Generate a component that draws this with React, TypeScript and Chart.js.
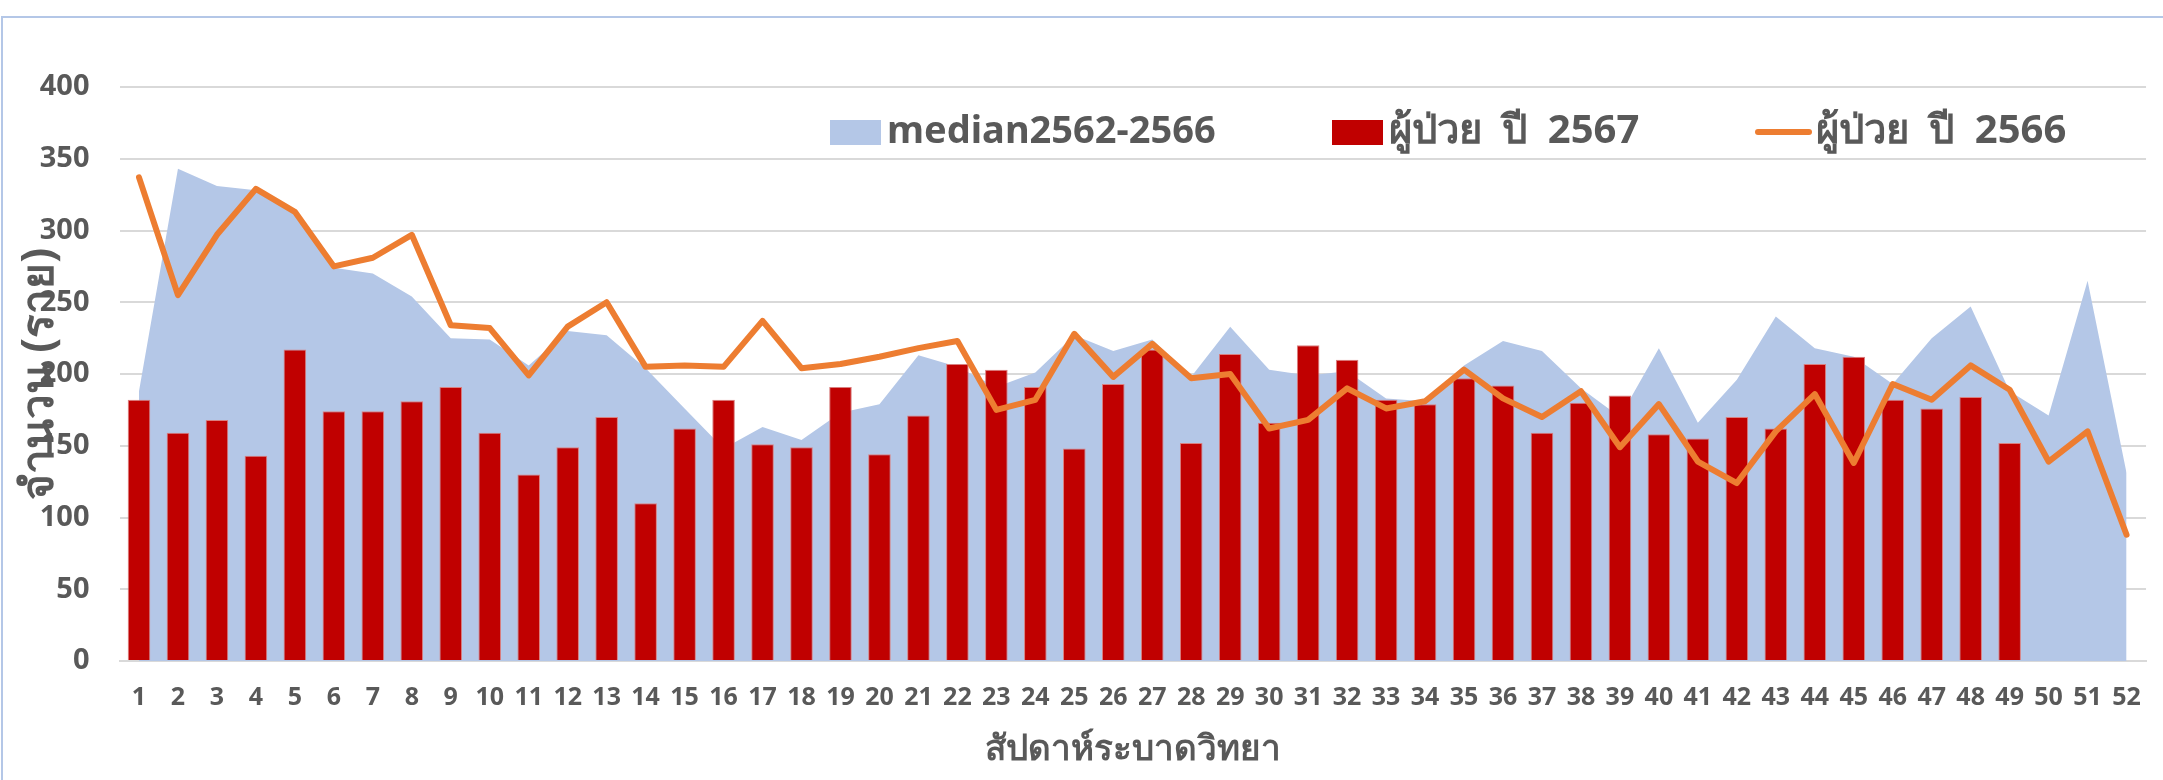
import React, { useEffect, useRef } from 'react';
import { Chart, registerables } from 'chart.js';

Chart.register(...registerables);

const weekLabels = ['1','2','3','4','5','6','7','8','9','10','11','12','13','14','15','16','17','18','19','20','21','22','23','24','25','26','27','28','29','30','31','32','33','34','35','36','37','38','39','40','41','42','43','44','45','46','47','48','49','50','51','52'];

const median2562to2566 = [188,343,331,328,313,274,270,254,225,224,206,230,227,204,176,148,163,154,173,179,213,205,191,201,227,216,224,198,233,203,199,202,183,181,206,223,216,190,170,218,166,196,240,218,212,193,225,247,188,171,265,131];

const patients2567 = [182,159,168,143,217,174,174,181,191,159,130,149,170,110,162,182,151,149,191,144,171,207,203,191,148,193,217,152,214,166,220,210,182,179,197,192,159,180,185,158,155,170,162,207,212,182,176,184,152];

const patients2566 = [337,255,297,329,313,275,281,297,234,232,199,233,250,205,206,205,237,204,207,212,218,223,175,182,228,198,221,197,200,162,168,190,176,181,203,183,170,188,149,179,139,124,160,186,138,193,182,206,189,139,160,88];

const yMin = 0;
const yMax = 400;
const yStep = 50;

const legendLabels = ['median2562-2566', 'ผู้ป่วย ปี 2567', 'ผู้ป่วย ปี 2566'];
const yTitle = 'จำนวน (ราย)';
const xTitle = 'สัปดาห์ระบาดวิทยา';

const FONT = '"Noto Sans", "Liberation Sans", sans-serif';
const TEXT = '#595959';

// legend item layout: [marker x, text x]
const legendPos = [
  [830, 887],
  [1332, 1389],
  [1755, 1816],
];

const decorPlugin = {
  id: 'decor',
  beforeDraw(chart: any) {
    const ctx = chart.ctx;
    ctx.save();
    ctx.strokeStyle = '#b4c7e7';
    ctx.lineWidth = 2;
    ctx.strokeRect(2, 17, chart.width + 20, chart.height + 20);
    ctx.restore();
  },
  afterDraw(chart: any) {
    const ctx = chart.ctx;
    const area = chart.chartArea;
    ctx.save();
    ctx.fillStyle = TEXT;
    ctx.font = `bold 44px ${FONT}`;
    ctx.textAlign = 'center';
    ctx.textBaseline = 'middle';
    ctx.translate(40, 374);
    ctx.rotate(-Math.PI / 2);
    ctx.fillText(yTitle, 0, 0);
    ctx.restore();

    ctx.save();
    ctx.fillStyle = TEXT;
    ctx.font = `bold 35px ${FONT}`;
    ctx.textAlign = 'center';
    ctx.textBaseline = 'middle';
    ctx.fillText(xTitle, (area.left + area.right) / 2, 750);
    ctx.restore();

    ctx.save();
    ctx.textBaseline = 'middle';
    ctx.textAlign = 'left';
    const ds = chart.data.datasets;
    const cy = 132;
    [0, 1, 2].forEach((i) => {
      const d = ds[i];
      const [mx, tx] = legendPos[i];
      if (i === 2) {
        ctx.strokeStyle = d.borderColor;
        ctx.lineWidth = 6;
        ctx.lineCap = 'round';
        ctx.beginPath();
        ctx.moveTo(mx + 3, cy);
        ctx.lineTo(tx - 7, cy);
        ctx.stroke();
      } else {
        ctx.fillStyle = d.backgroundColor;
        ctx.fillRect(mx, cy - 12, tx - mx - 6, 25);
      }
      ctx.fillStyle = TEXT;
      ctx.font = i === 0 ? `bold 38px ${FONT}` : `bold 40px ${FONT}`;
      (ctx as any).wordSpacing = i === 0 ? '0px' : '10px';
      ctx.fillText(d.label, tx, cy);
    });
    ctx.restore();
  },
};

export default function App() {
  const ref = useRef<HTMLCanvasElement | null>(null);
  useEffect(() => {
    document.body.style.margin = '0';
    const canvas = ref.current;
    if (!canvas) return;
    const chart = new Chart(canvas, {
      type: 'bar',
      data: {
        labels: weekLabels,
        datasets: [
          {
            type: 'line',
            label: legendLabels[0],
            data: median2562to2566,
            fill: 'origin',
            backgroundColor: '#b4c7e7',
            borderColor: 'rgba(0,0,0,0)',
            borderWidth: 0,
            pointRadius: 0,
            tension: 0,
            order: 3,
          } as any,
          {
            type: 'bar',
            label: legendLabels[1],
            data: patients2567,
            backgroundColor: '#c00000',
            borderColor: '#d98080',
            borderWidth: 1,
            barPercentage: 0.58,
            categoryPercentage: 1,
            order: 2,
          } as any,
          {
            type: 'line',
            label: legendLabels[2],
            data: patients2566,
            fill: false,
            borderColor: '#ed7d31',
            backgroundColor: '#ed7d31',
            borderWidth: 6,
            pointRadius: 0,
            tension: 0,
            borderJoinStyle: 'round',
            borderCapStyle: 'round',
            order: 1,
          } as any,
        ],
      },
      options: {
        responsive: false,
        animation: false,
        devicePixelRatio: 1,
        layout: { padding: { left: 0, right: 15, top: 87, bottom: 0 } },
        plugins: {
          legend: { display: false },
          tooltip: { enabled: false },
        },
        scales: {
          x: {
            offset: true,
            grid: { display: false, drawTicks: false },
            border: { display: true, color: '#d9d9d9', width: 2 },
            ticks: {
              color: TEXT,
              font: { family: FONT, size: 25, weight: 'bold' },
              padding: 22,
              maxRotation: 0,
              autoSkip: false,
            },
            afterFit(scale: any) {
              scale.height = 780 - 661;
            },
          },
          y: {
            min: yMin,
            max: yMax,
            ticks: {
              stepSize: yStep,
              color: TEXT,
              font: { family: FONT, size: 29, weight: 'bold' },
              padding: 30,
            },
            grid: { color: '#d9d9d9', lineWidth: 2, drawTicks: false },
            border: { display: false },
            afterFit(scale: any) {
              scale.width = 119.5;
            },
          },
        },
      } as any,
      plugins: [decorPlugin],
    });
    return () => chart.destroy();
  }, []);
  return <canvas ref={ref} width={2163} height={780} style={{ display: 'block' }} />;
}
